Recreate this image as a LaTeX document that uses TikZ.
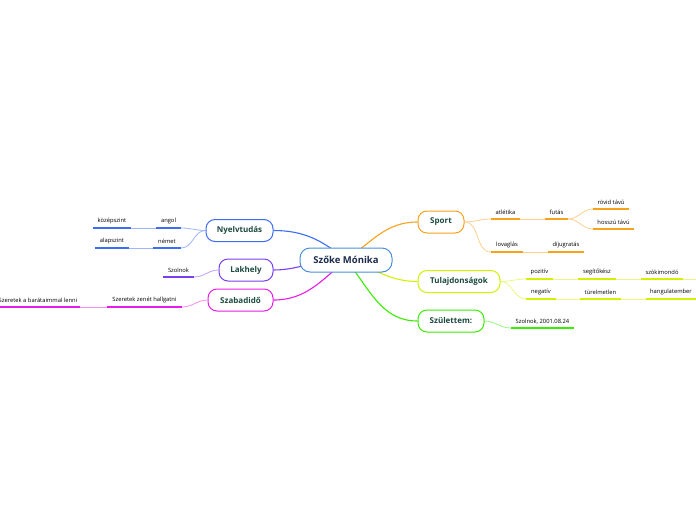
\documentclass[tikz,border=0pt]{standalone}
\usepackage{fontspec}
\setmainfont{Open Sans}
\usetikzlibrary{backgrounds}
\definecolor{cblue}{HTML}{4A8FD6}
\definecolor{corange}{HTML}{F7A21B}
\definecolor{cyell}{HTML}{D4F000}
\definecolor{cgreen}{HTML}{3BEB00}
\definecolor{cnyelv}{HTML}{3D6CF5}
\definecolor{cpurple}{HTML}{7B3FEF}
\definecolor{cmag}{HTML}{E81CE8}
\definecolor{ttext}{HTML}{1B4A3E}
\definecolor{ctext}{HTML}{1C2B4C}
\tikzset{
  x=1pt, y=-1pt,
  central/.style={draw=cblue, line width=1pt, rounded corners=10pt, fill=white, minimum height=24pt, minimum width=92pt, font=\fontsize{9.5}{11}\selectfont\bfseries, text=ctext},
  topic/.style={draw=#1, line width=1pt, rounded corners=9pt, fill=white, minimum height=22pt, font=\fontsize{8}{10}\selectfont\bfseries, text=ttext},
  leaf/.style={anchor=south, inner sep=0pt, minimum height=13pt, font=\fontsize{5.8}{7}\selectfont, text=black},
  ul/.style={draw=#1, line width=1.5pt},
  conn/.style={draw=#1, line width=1.1pt},
  sub/.style={draw=#1!50, line width=0.8pt},
}
\newcommand{\leafline}[2]{\draw[ul=#2] (#1.south west) -- (#1.south east);}
\begin{document}
\begin{tikzpicture}
\useasboundingbox (0,0) rectangle (696,520);
% central and topics
\node[central] (c) at (346,260) {Szőke Mónika};
\node[topic=corange, minimum width=46pt] (sport) at (441,222) {Sport};
\node[topic=cyell, minimum width=82pt] (tul) at (459,281.5) {Tulajdonságok};
\node[topic=cgreen, minimum width=66pt] (szul) at (451,321) {Születtem:};
\node[topic=cnyelv, minimum width=67pt] (nyelv) at (239.5,230.5) {Nyelvtudás};
\node[topic=cpurple, minimum width=54pt] (lak) at (246,270) {Lakhely};
\node[topic=cmag, minimum width=65pt] (szab) at (240.5,300) {Szabadidő};
% leaves right
\node[leaf, minimum width=29pt] (atl) at (505.5,219) {atlétika};
\node[leaf, minimum width=23pt] (fut) at (556.5,219) {futás};
\node[leaf, minimum width=36pt] (rov) at (611,209) {rövid távú};
\node[leaf, minimum width=41pt] (hos) at (613.5,229) {hosszú távú};
\node[leaf, minimum width=32pt] (lov) at (507,252) {lovaglás};
\node[leaf, minimum width=36pt] (dij) at (566,252) {díjugratás};
\node[leaf, minimum width=27pt] (poz) at (539.5,279) {pozitív};
\node[leaf, minimum width=38pt] (seg) at (597,279) {segítőkész};
\node[leaf, minimum width=42pt] (szo) at (662,279) {szókimondó};
\node[leaf, minimum width=30pt] (neg) at (541,299) {negatív};
\node[leaf, minimum width=41pt] (tur) at (600.5,299) {türelmetlen};
\node[leaf, minimum width=50pt] (han) at (671,299) {hangulatember};
\node[leaf, minimum width=63pt] (szd) at (542.5,328) {Szolnok, 2001.08.24};
% leaves left
\node[leaf, minimum width=38pt] (koz) at (112,228) {középszint};
\node[leaf, minimum width=25pt] (ang) at (168.5,228) {angol};
\node[leaf, minimum width=34pt] (ala) at (112,248) {alapszint};
\node[leaf, minimum width=28pt] (nem) at (167,248) {német};
\node[leaf, minimum width=31pt] (szk) at (178.5,277) {Szolnok};
\node[leaf, minimum width=75pt] (zen) at (144.5,307) {Szeretek zenét hallgatni};
\node[leaf, minimum width=84pt] (bar) at (38,307) {Szeretek a barátaimmal lenni};
\coordinate (szoend) at (696,279);
\coordinate (hanend) at (700,299);
\begin{pgfonlayer}{background}
% main connectors
\draw[conn=corange] (c.center) to[out=35,in=180] (sport.west);
\draw[conn=cyell] (c.center) to[out=-15,in=180] (tul.west);
\draw[conn=cgreen] (c.center) to[out=-50,in=180] (szul.west);
\draw[conn=cnyelv] (c.center) to[out=140,in=0] (nyelv.east);
\draw[conn=cpurple] (c.center) to[out=175,in=0] (lak.east);
\draw[conn=cmag] (c.center) to[out=-140,in=0] (szab.east);
% sub connectors
\draw[sub=corange] (sport.east) to[out=0,in=180] (atl.south west);
\draw[sub=corange] (sport.east) to[out=0,in=180] (lov.south west);
\draw[sub=corange] (atl.south east) -- (fut.south west);
\draw[sub=corange] (fut.south east) to[out=0,in=180] (rov.south west);
\draw[sub=corange] (fut.south east) to[out=0,in=180] (hos.south west);
\draw[sub=corange] (lov.south east) -- (dij.south west);
\draw[sub=cyell] (tul.east) to[out=0,in=180] (poz.south west);
\draw[sub=cyell] (tul.east) to[out=0,in=180] (neg.south west);
\draw[sub=cyell] (poz.south east) -- (seg.south west);
\draw[sub=cyell] (seg.south east) -- (szo.south west);
\draw[sub=cyell] (szo.south east) -- (szoend);
\draw[sub=cyell] (neg.south east) -- (tur.south west);
\draw[sub=cyell] (tur.south east) -- (han.south west);
\draw[sub=cgreen] (szul.east) to[out=0,in=180] (szd.south west);
\draw[sub=cnyelv] (nyelv.west) to[out=180,in=0] (ang.south east);
\draw[sub=cnyelv] (nyelv.west) to[out=180,in=0] (nem.south east);
\draw[sub=cnyelv] (ang.south west) -- (koz.south east);
\draw[sub=cnyelv] (nem.south west) -- (ala.south east);
\draw[sub=cpurple] (lak.west) to[out=180,in=0] (szk.south east);
\draw[sub=cmag] (szab.west) to[out=180,in=0] (zen.south east);
\draw[sub=cmag] (zen.south west) -- (bar.south east);
\end{pgfonlayer}
% underlines
\leafline{atl}{corange}\leafline{fut}{corange}\leafline{rov}{corange}
\leafline{hos}{corange}\leafline{lov}{corange}\leafline{dij}{corange}
\leafline{poz}{cyell}\leafline{seg}{cyell}\leafline{szo}{cyell}
\leafline{neg}{cyell}\leafline{tur}{cyell}\leafline{han}{cyell}
\leafline{szd}{cgreen}
\leafline{koz}{cnyelv}\leafline{ang}{cnyelv}\leafline{ala}{cnyelv}\leafline{nem}{cnyelv}
\leafline{szk}{cpurple}
\leafline{zen}{cmag}\leafline{bar}{cmag}
\end{tikzpicture}
\end{document}
